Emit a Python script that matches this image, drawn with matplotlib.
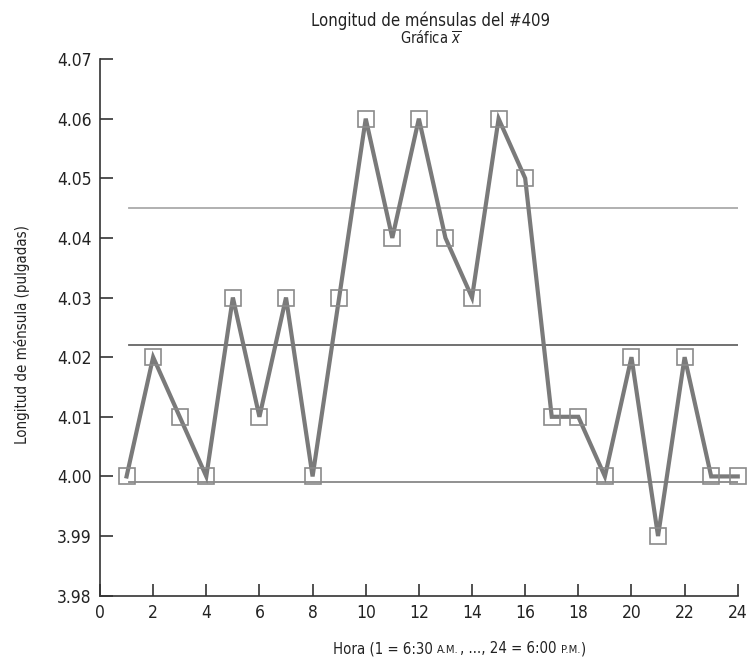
import matplotlib.pyplot as plt
from matplotlib import font_manager

names = {f.name for f in font_manager.fontManager.ttflist}
if 'Liberation Sans Narrow' in names:
    plt.rcParams['font.family'] = ['Liberation Sans Narrow', 'DejaVu Sans']
else:
    plt.rcParams['font.family'] = ['DejaVu Sans']
    plt.rcParams['font.stretch'] = 'condensed'

# hourly sample means
hora = list(range(1, 25))
longitud = [4.00, 4.02, 4.01, 4.00, 4.03, 4.01, 4.03, 4.00, 4.03, 4.06, 4.04, 4.06,
            4.04, 4.03, 4.06, 4.05, 4.01, 4.01, 4.00, 4.02, 3.99, 4.02, 4.00, 4.00]

# control limits
lsc = 4.045
lc = 4.022
lic = 3.999

yticks = [3.98, 3.99, 4.00, 4.01, 4.02, 4.03, 4.04, 4.05, 4.06, 4.07]
xticks = list(range(0, 25, 2))

W, H = 749, 658
fig = plt.figure(figsize=(W / 100, H / 100), dpi=100)
ax = fig.add_axes([0.1335, 0.0947, 0.8515, 0.8156])

ax.axhline(lsc, color='#aaaaaa', lw=1.3, xmin=0.045, xmax=1)
ax.axhline(lc, color='#666666', lw=1.3, xmin=0.045, xmax=1)
ax.axhline(lic, color='#888888', lw=1.3, xmin=0.045, xmax=1)

ax.plot(hora, longitud, color='#7a7a7a', lw=3, solid_joinstyle='miter',
        marker='s', markersize=11, markerfacecolor='none',
        markeredgecolor='#8a8a8a', markeredgewidth=1.2, clip_on=False, zorder=3)

ax.set_xlim(0, 24)
ax.set_ylim(3.98, 4.07)
ax.set_xticks(xticks)
ax.set_yticks(yticks)
ax.set_yticklabels([f'{v:.2f}' for v in yticks])
for s in ['top', 'right']:
    ax.spines[s].set_visible(False)
for s in ['left', 'bottom']:
    ax.spines[s].set_color('#333333')
    ax.spines[s].set_linewidth(1.2)
ax.tick_params(direction='in', length=9, width=1.2, color='#333333',
               labelsize=12.5, labelcolor='#222222', pad=6)

fig.text(22 / W, 1 - 335 / H, 'Longitud de ménsula (pulgadas)', rotation=90,
         ha='center', va='center', fontsize=10.8, color='#222222')

# x label with small caps for A.M. / P.M.
renderer = fig.canvas.get_renderer()
big, small = 10.7, 8
pieces = [('Hora (1 = 6:30', big, True), ('A.M.', small, False),
          (', ..., 24 = 6:00', big, True), ('P.M.', small, False), (')', big, False)]
probe1 = fig.text(0, 0, 'x x', fontsize=big)
probe2 = fig.text(0, 0, 'xx', fontsize=big)
gap = probe1.get_window_extent(renderer).width - probe2.get_window_extent(renderer).width
probe1.remove()
probe2.remove()
texts = []
x = 0.0
for s, fs, space in pieces:
    t = fig.text(x / W, 5 / H, s, fontsize=fs, ha='left', va='baseline', color='#222222')
    texts.append((t, x))
    x += t.get_window_extent(renderer).width + (gap if space else 1)
start = 460 - x / 2
for t, x0 in texts:
    t.set_x((start + x0) / W)

fig.text(0.575, 0.960, 'Longitud de ménsulas del #409', ha='center', va='baseline',
         fontsize=12, color='#222222')
fig.text(0.575, 0.933, r'Gráfica $\overline{x}$', ha='center', va='baseline',
         fontsize=10.5, color='#222222')

fig.savefig('out.png', dpi=100)
